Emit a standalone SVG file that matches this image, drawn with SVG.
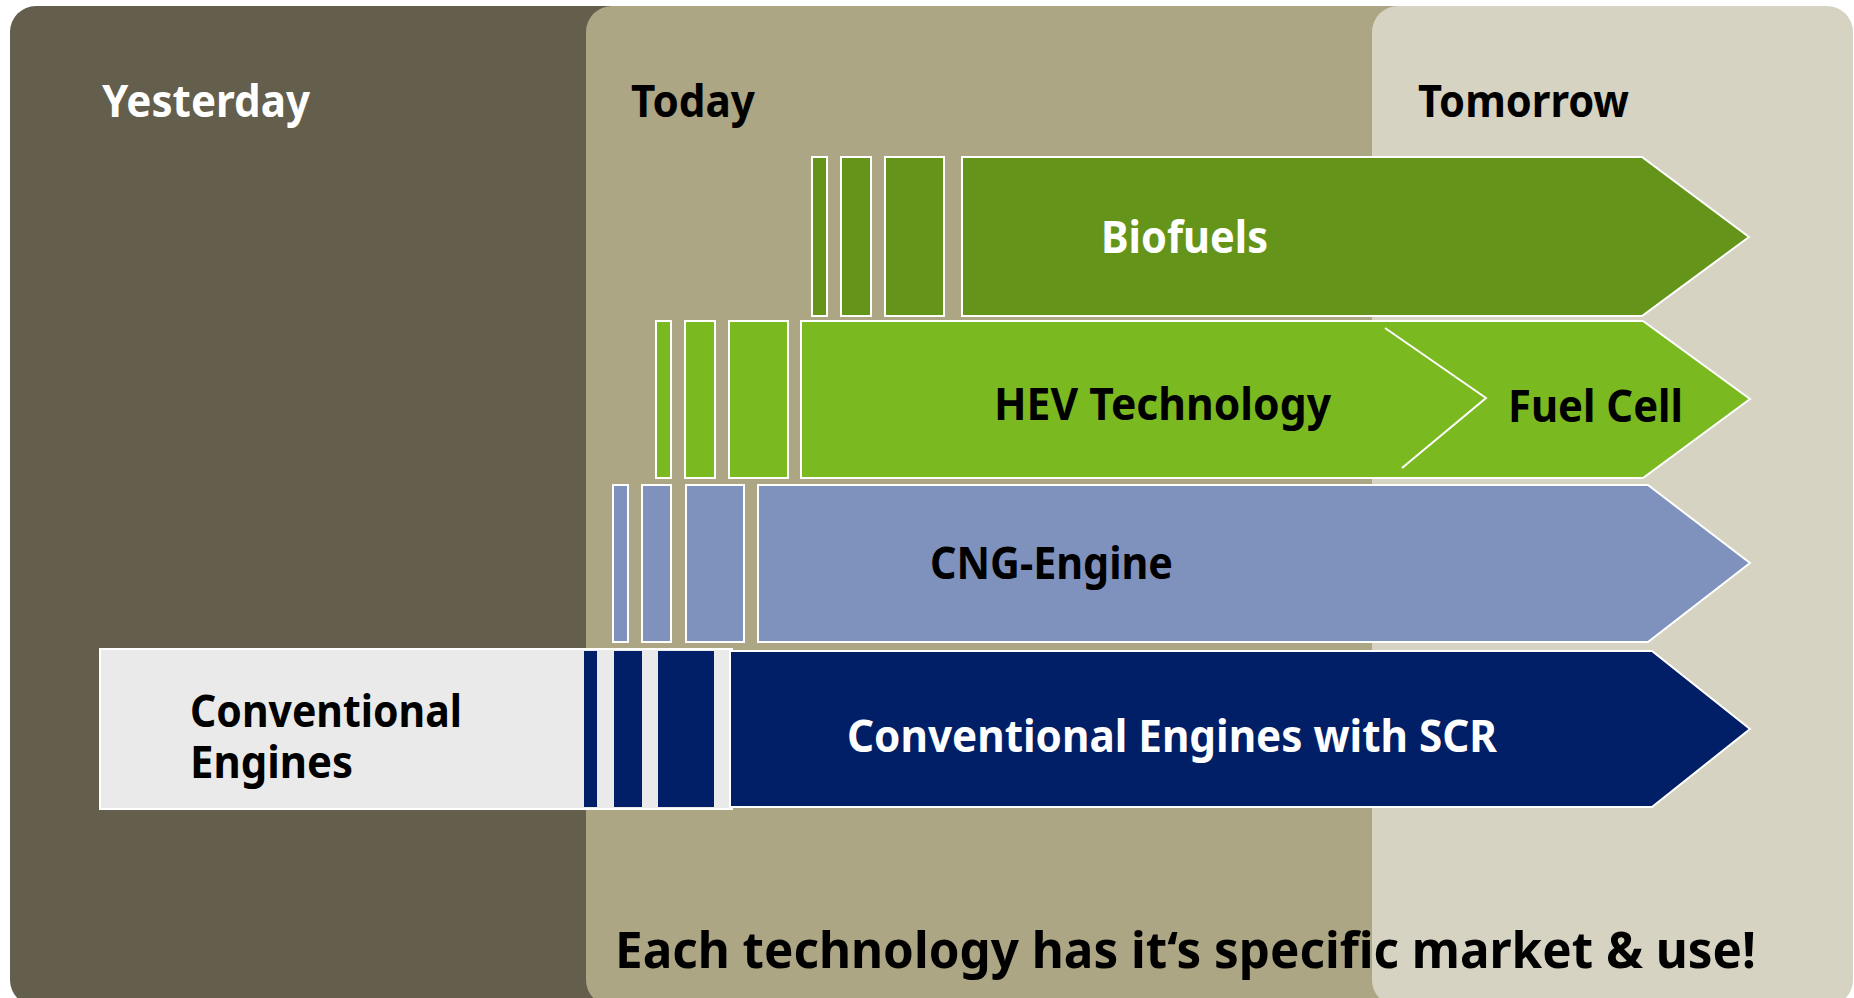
<svg xmlns="http://www.w3.org/2000/svg" width="1854" height="998" viewBox="0 0 1854 998">
  <style>
    .lbl { font-family: "Noto Sans", "Liberation Sans", sans-serif; font-weight: 700; }
    .era { font-size: 45px; }
    .row { font-size: 45px; }
    .bar { stroke: #FFFFFF; stroke-width: 2; }
    .bio { fill: #64951A; }
    .hev { fill: #7AB91F; }
    .cng { fill: #7F92BD; }
    .scr { fill: #001F66; }
  </style>

  <rect width="1854" height="998" fill="#FFFFFF"/>

  <!-- time bands -->
  <g id="bands">
    <rect id="band-yesterday" x="10" y="6" width="640" height="1000" rx="26" fill="#645E4C"/>
    <rect id="band-today" x="586" y="6" width="840" height="1000" rx="26" fill="#ACA684"/>
    <rect id="band-tomorrow" x="1372" y="6" width="481" height="1000" rx="26" fill="#D6D3C2"/>
    <text class="lbl era" x="102" y="117" fill="#FFFFFF" textLength="208" lengthAdjust="spacingAndGlyphs">Yesterday</text>
    <text class="lbl era" x="631" y="117" fill="#000000" textLength="124" lengthAdjust="spacingAndGlyphs">Today</text>
    <text class="lbl era" x="1418" y="117" fill="#000000" textLength="211" lengthAdjust="spacingAndGlyphs">Tomorrow</text>
  </g>

  <!-- Biofuels -->
  <g id="node-biofuels">
    <rect class="bar bio" x="812" y="157" width="15" height="159"/>
    <rect class="bar bio" x="841" y="157" width="30" height="159"/>
    <rect class="bar bio" x="885" y="157" width="59" height="159"/>
    <polygon class="bar bio" points="962,157 1642,157 1749,237 1642,316 962,316"/>
    <text class="lbl row" x="1101" y="253" fill="#FFFFFF" textLength="167" lengthAdjust="spacingAndGlyphs">Biofuels</text>
  </g>

  <!-- HEV Technology / Fuel Cell -->
  <g id="node-hev">
    <rect class="bar hev" x="656" y="321" width="15" height="157"/>
    <rect class="bar hev" x="685" y="321" width="30" height="157"/>
    <rect class="bar hev" x="729" y="321" width="59" height="157"/>
    <polygon class="bar hev" points="801,321 1643,321 1750,399 1643,478 801,478"/>
    <polyline points="1385,328 1486,398 1402,468" fill="none" stroke="#FFFFFF" stroke-width="2"/>
    <text class="lbl row" x="994" y="420" fill="#000000" textLength="337" lengthAdjust="spacingAndGlyphs">HEV Technology</text>
    <text class="lbl row" x="1508" y="422" fill="#000000" textLength="175" lengthAdjust="spacingAndGlyphs">Fuel Cell</text>
  </g>

  <!-- CNG-Engine -->
  <g id="node-cng">
    <rect class="bar cng" x="613" y="485" width="15" height="157"/>
    <rect class="bar cng" x="642" y="485" width="29" height="157"/>
    <rect class="bar cng" x="686" y="485" width="58" height="157"/>
    <polygon class="bar cng" points="758,485 1648,485 1750,563 1648,642 758,642"/>
    <text class="lbl row" x="930" y="579" fill="#000000" textLength="243" lengthAdjust="spacingAndGlyphs">CNG-Engine</text>
  </g>

  <!-- Conventional engines and SCR -->
  <g id="node-conventional">
    <rect x="100" y="649" width="632" height="160" fill="#EAEAEA" stroke="#FFFFFF" stroke-width="2"/>
    <text class="lbl row" x="190" y="727" fill="#000000" textLength="272" lengthAdjust="spacingAndGlyphs">Conventional</text>
    <text class="lbl row" x="190" y="778" fill="#000000" textLength="163" lengthAdjust="spacingAndGlyphs">Engines</text>
  </g>
  <g id="node-scr">
    <rect class="scr" x="584" y="651" width="13" height="156"/>
    <rect class="scr" x="614" y="651" width="28" height="156"/>
    <rect class="scr" x="658" y="651" width="56" height="156"/>
    <polygon class="bar scr" points="730,651 1652,651 1750,729 1652,807 730,807"/>
    <text class="lbl row" x="847" y="752" fill="#FFFFFF" textLength="650" lengthAdjust="spacingAndGlyphs">Conventional Engines with SCR</text>
  </g>

  <!-- closing statement -->
  <g id="node-statement">
    <text class="lbl" x="615" y="968" font-size="51" fill="#000000" textLength="1141" lengthAdjust="spacingAndGlyphs">Each technology has it‘s specific market &amp; use!</text>
  </g>
</svg>
